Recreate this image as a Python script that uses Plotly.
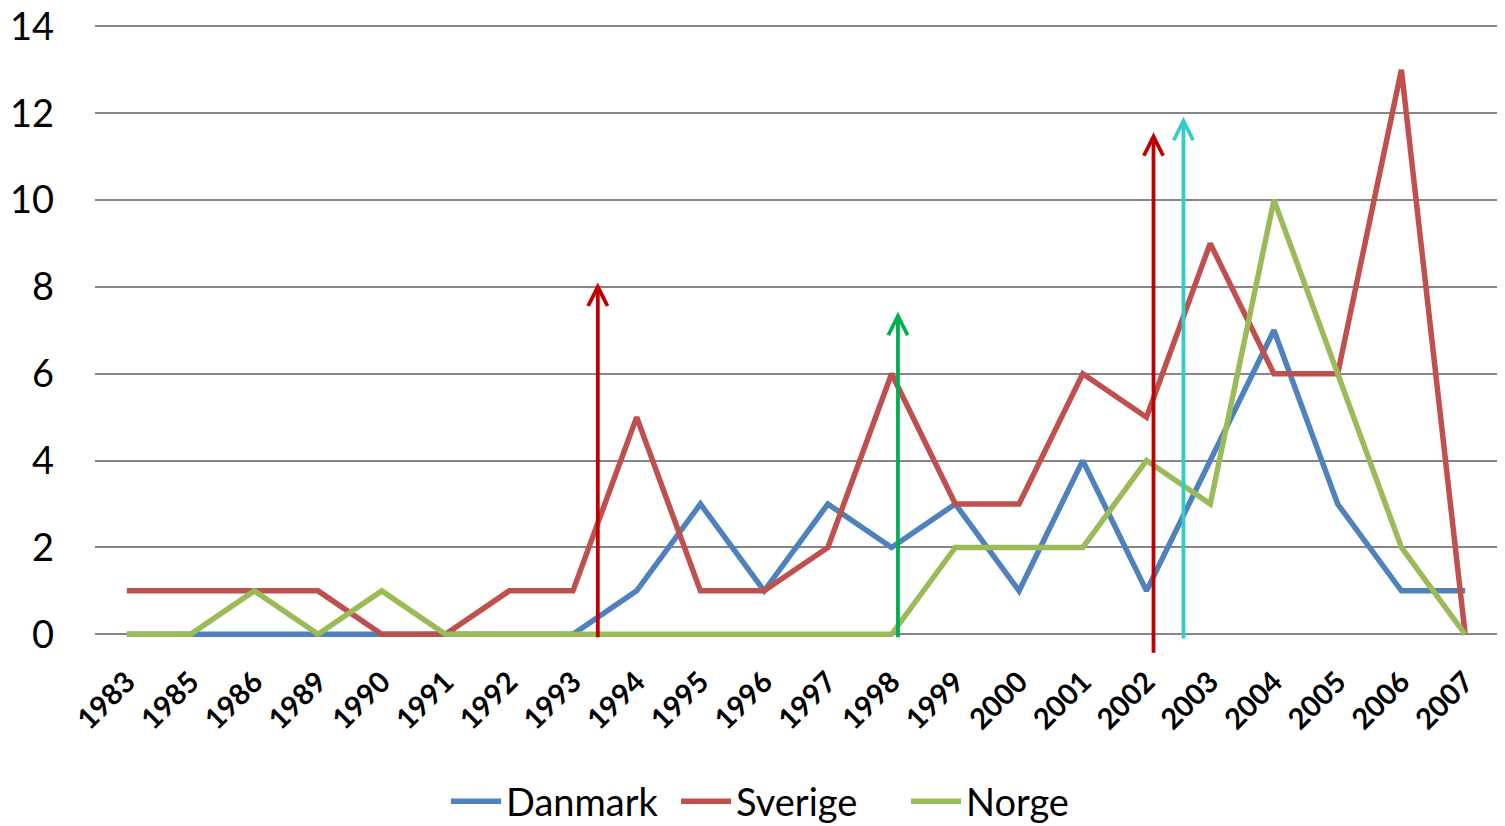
import plotly.graph_objects as go

years = ["1983", "1985", "1986", "1989", "1990", "1991", "1992", "1993", "1994", "1995", "1996",
         "1997", "1998", "1999", "2000", "2001", "2002", "2003", "2004", "2005", "2006", "2007"]

danmark = [0, 0, 0, 0, 0, 0, 0, 0, 1, 3, 1, 3, 2, 3, 1, 4, 1, 4, 7, 3, 1, 1]
sverige = [1, 1, 1, 1, 0, 0, 1, 1, 5, 1, 1, 2, 6, 3, 3, 6, 5, 9, 6, 6, 13, 0]
norge = [0, 0, 1, 0, 1, 0, 0, 0, 0, 0, 0, 0, 0, 2, 2, 2, 4, 3, 10, 6, 2, 0]

# vertical arrows (x as category index, y from bottom to top)
arrow_x = [7.39, 12.10, 16.11, 16.58]
arrow_bottom = [-0.1, -0.1, -0.46, -0.13]
arrow_top = [8.1, 7.43, 11.56, 11.92]
arrow_colors = ["#C00000", "#00B050", "#C00000", "#31CCCC"]

y_ticks = [0, 2, 4, 6, 8, 10, 12, 14]

font_family = "Lato, 'Open Sans', sans-serif"

fig = go.Figure()

series = [("Danmark", danmark, "#4F81BD"),
          ("Sverige", sverige, "#C0504D"),
          ("Norge", norge, "#9BBB59")]

for name, vals, color in series:
    fig.add_trace(go.Scatter(
        x=years, y=vals, name=name, mode="lines",
        line=dict(color=color, width=5.5),
    ))

for xv, y0, y1, c in zip(arrow_x, arrow_bottom, arrow_top, arrow_colors):
    fig.add_annotation(
        x=xv, y=y1, ax=xv, ay=y0,
        xref="x", yref="y", axref="x", ayref="y",
        text="", showarrow=True,
        arrowhead=5, arrowsize=1.0, arrowwidth=3.8, arrowcolor=c,
        standoff=0, startstandoff=0,
    )

# page body has an 8px margin, so the figure is sized to fit inside it
fig.update_layout(
    width=1497, height=818,
    paper_bgcolor="white", plot_bgcolor="white",
    margin=dict(l=87, r=8, t=14, b=170, autoexpand=False),
    font=dict(family=font_family, color="black"),
    showlegend=True,
    legend=dict(
        orientation="h", xref="container", yref="container",
        x=0.2926, xanchor="left", y=0.03, yanchor="middle",
        font=dict(size=38, family=font_family, color="black"),
        itemwidth=50, entrywidth=165, bgcolor="rgba(0,0,0,0)",
    ),
    xaxis=dict(
        type="category", range=[-0.5, 21.5],
        showgrid=False, showline=False, zeroline=False,
        tickangle=-45,
        tickfont=dict(size=29, family=font_family, color="black", weight="bold"),
        ticks="", ticklabelstandoff=2,
    ),
    yaxis=dict(
        range=[-0.5, 14.1], tickvals=y_ticks,
        showgrid=True, gridcolor="#868686", gridwidth=2,
        zeroline=False, showline=False, ticks="",
        tickfont=dict(size=38, family=font_family, color="black"),
        ticklabelstandoff=40, ticklabeloverflow="allow",
    ),
)

fig.write_html("out.html")
